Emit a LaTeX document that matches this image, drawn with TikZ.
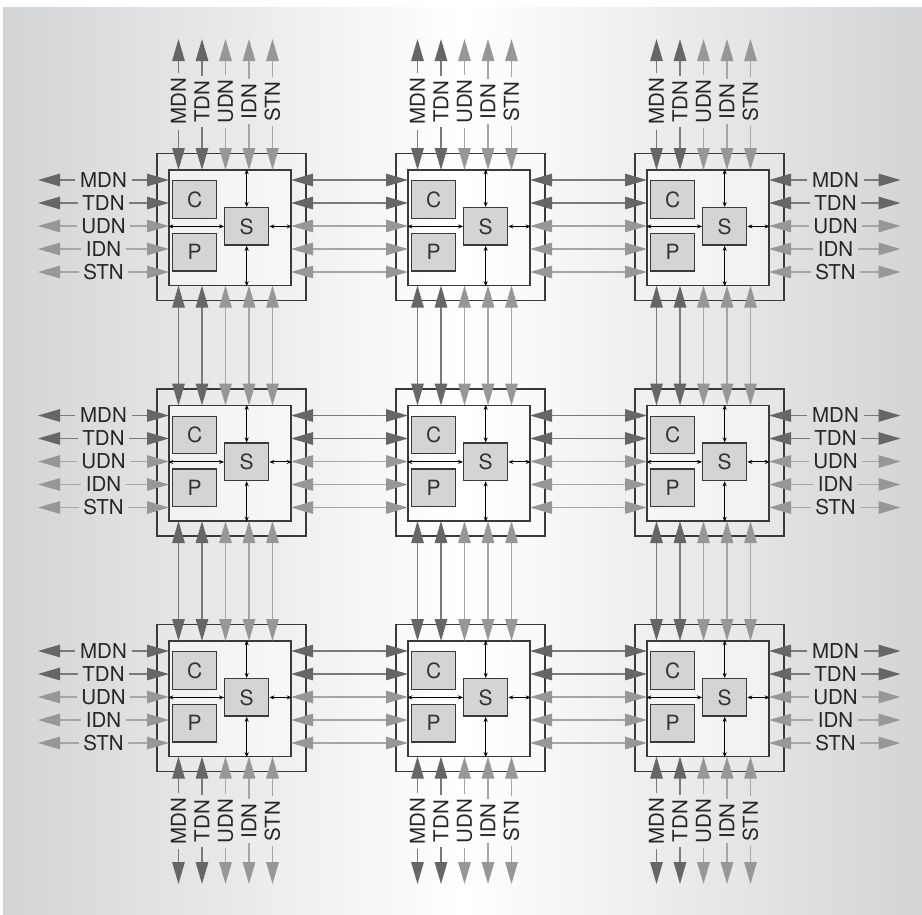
\documentclass[tikz,border=0pt]{standalone}
\usepackage{fontspec}
\setmainfont{TeX Gyre Heros}
\usetikzlibrary{arrows.meta,calc}
\definecolor{netdark}{HTML}{666666}
\definecolor{netdarkline}{HTML}{7A7A7A}
\definecolor{netlight}{HTML}{979797}
\definecolor{netlightline}{HTML}{A6A6A6}
\definecolor{bgside}{HTML}{D3D4D6}
\definecolor{boxline}{HTML}{3A3A3A}
\tikzset{
  tilebox/.style={draw=boxline,line width=1.4pt,fill=white,fill opacity=0.15,minimum width=149pt,minimum height=147pt,inner sep=0pt},
  corebox/.style={draw=boxline,line width=1.4pt,fill=white,fill opacity=0.45,minimum width=122pt,minimum height=115.5pt,inner sep=0pt},
  unitbox/.style={draw=boxline,line width=1.4pt,fill=black!17,minimum width=44pt,minimum height=37.5pt,inner sep=0pt,font=\fontsize{21}{21}\selectfont,text=black!80},
  netlabel/.style={inner xsep=4.5pt,inner ysep=2pt,font=\fontsize{20.5}{20.5}\selectfont,text=black!85},
  netline/.style={line width=1.2pt},
  darknet/.style={draw=netdarkline,>={Triangle[length=22pt,width=12.5pt,color=netdark]}},
  lightnet/.style={draw=netlightline,>={Triangle[length=22pt,width=12.5pt,color=netlight]}},
  tinyarrow/.style={line width=0.9pt,black,{Stealth[length=5pt,width=4pt]}-{Stealth[length=5pt,width=4pt]}}
}

\begin{document}
\begin{tikzpicture}[x=1pt,y=-1pt]
  \useasboundingbox (0,0) rectangle (922,914);
  \shade[left color=bgside,right color=bgside,middle color=white] (3,7) rectangle (922,914);
  \foreach \c/\cx in {1/231.5,2/470.5,3/709.5}
    \foreach \r/\cy in {1/227,2/462.5,3/698} {
      \node[tilebox] (o-\c-\r) at (\cx,\cy) {};
      \node[corebox] (i-\c-\r) at (\cx-1.5,\cy+0.75) {};
      \node[unitbox] (c-\c-\r) at (\cx-36.8,\cy-27.5) {C};
      \node[unitbox] (p-\c-\r) at (\cx-36.8,\cy+25.2) {P};
      \node[unitbox] (s-\c-\r) at (\cx+15.2,\cy-0.6) {S};
      \draw[tinyarrow] (i-\c-\r.west |- s-\c-\r.west) -- (s-\c-\r.west);
      \draw[tinyarrow] (s-\c-\r.east) -- (s-\c-\r.east -| i-\c-\r.east);
      \draw[tinyarrow] (s-\c-\r.north) -- (s-\c-\r.north |- i-\c-\r.north);
      \draw[tinyarrow] (s-\c-\r.south) -- (s-\c-\r.south |- i-\c-\r.south);
      \foreach \k in {1,...,5} {
        \pgfmathsetmacro\ly{\cy-70+23*\k}
        \pgfmathsetmacro\lx{\cx-76.5+23.5*\k}
        \coordinate (we-\c-\r-\k) at (\cx-62.5,\ly);
        \coordinate (ea-\c-\r-\k) at (\cx+59.5,\ly);
        \coordinate (no-\c-\r-\k) at (\lx,\cy-57);
        \coordinate (so-\c-\r-\k) at (\lx,\cy+58.5);
      }
    }
  % links between neighbouring tiles
  \foreach \c/\d in {1/2,2/3}
    \foreach \r in {1,2,3}
      \foreach \k/\col in {1/darknet,2/darknet,3/lightnet,4/lightnet,5/lightnet} {
        \draw[netline,\col,<->] (ea-\c-\r-\k) -- (we-\d-\r-\k);
        \draw[netline,\col,<->] (so-\r-\c-\k) -- (no-\r-\d-\k);
      }
  % networks leaving the array
  \foreach \n/\cy in {1/227,2/462.5,3/698}
    \foreach \k/\net/\col in {1/MDN/darknet,2/TDN/darknet,3/UDN/lightnet,4/IDN/lightnet,5/STN/lightnet} {
      \pgfmathsetmacro\ly{\cy-70+23*\k}
      \node[netlabel] (lw-\n-\k) at (103.5,\ly) {\net};
      \coordinate (lwtip-\n-\k) at (38,\ly);
      \draw[netline,\col,->] (lw-\n-\k) -- (lwtip-\n-\k);
      \draw[netline,\col,->] (lw-\n-\k) -- (we-1-\n-\k);
      \node[netlabel] (le-\n-\k) at (835.5,\ly) {\net};
      \coordinate (letip-\n-\k) at (900.5,\ly);
      \draw[netline,\col,->] (le-\n-\k) -- (letip-\n-\k);
      \draw[netline,\col,->] (le-\n-\k) -- (ea-3-\n-\k);
    }
  \foreach \n/\cx in {1/231.5,2/470.5,3/709.5}
    \foreach \k/\net/\col in {1/MDN/darknet,2/TDN/darknet,3/UDN/lightnet,4/IDN/lightnet,5/STN/lightnet} {
      \pgfmathsetmacro\lx{\cx-76.5+23.5*\k}
      \node[netlabel,rotate=90] (ln-\n-\k) at (\lx,101.5) {\net};
      \coordinate (lntip-\n-\k) at (\lx,39);
      \draw[netline,\col,->] (ln-\n-\k) -- (lntip-\n-\k);
      \draw[netline,\col,->] (ln-\n-\k) -- (no-\n-1-\k);
      \node[netlabel,rotate=90] (ls-\n-\k) at (\lx,821) {\net};
      \coordinate (lstip-\n-\k) at (\lx,884);
      \draw[netline,\col,->] (ls-\n-\k) -- (lstip-\n-\k);
      \draw[netline,\col,->] (ls-\n-\k) -- (so-\n-3-\k);
    }
\end{tikzpicture}
\end{document}
